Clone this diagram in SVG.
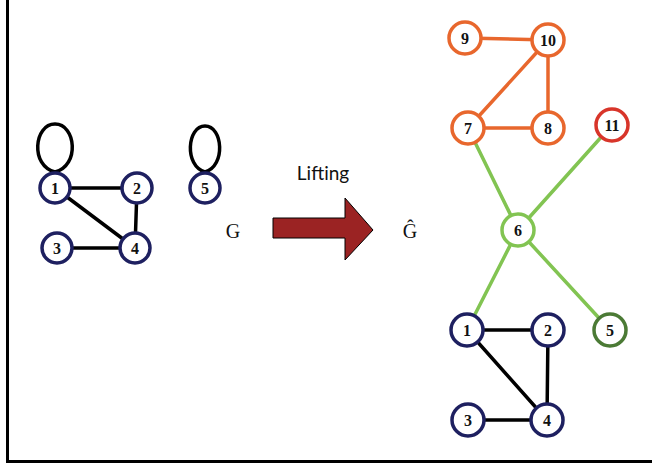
<svg xmlns="http://www.w3.org/2000/svg" width="652" height="466" viewBox="0 0 652 466">
<style>
.n circle{fill:#fff;stroke-width:3.5}
.n text{font-family:"Liberation Serif",serif;font-weight:bold;font-size:16px;text-anchor:middle;fill:#111}
.navy circle{stroke:#1e2060}
.org circle{stroke:#e8672d}
.red circle{stroke:#d8352a}
.lg circle{stroke:#82c452}
.dg circle{stroke:#4b7a35}
.e line,.e path{stroke-width:3.5;fill:none;stroke-linecap:round}
.k{stroke:#000}
.o{stroke:#e8672d}
.g{stroke:#82c452}
.lbl{font-family:"Liberation Serif",serif;font-size:20px;text-anchor:middle;fill:#111}
</style>
<rect x="0" y="0" width="652" height="466" fill="#fff"/>
<path d="M7.5 0 V461.5 H652" fill="none" stroke="#000" stroke-width="3"/>
<g id="connectors" class="e">
<path class="k" d="M55 172 C30 166 34 124 55 124 C76 124 80 166 55 172"/>
<path class="k" d="M205 172 C184 166 187 126 205 126 C223 126 226 166 205 172"/>
<line class="k" x1="55" y1="188" x2="137" y2="188"/>
<line class="k" x1="55" y1="188" x2="135" y2="248"/>
<line class="k" x1="137" y1="188" x2="135" y2="248"/>
<line class="k" x1="57" y1="248" x2="135" y2="248"/>
<line class="o" x1="465" y1="38" x2="548" y2="40"/>
<line class="o" x1="548" y1="40" x2="468" y2="128"/>
<line class="o" x1="548" y1="40" x2="548" y2="128"/>
<line class="o" x1="468" y1="128" x2="548" y2="128"/>
<line class="g" x1="468" y1="128" x2="518" y2="230"/>
<line class="g" x1="612" y1="125" x2="518" y2="230"/>
<line class="g" x1="518" y1="230" x2="467" y2="330"/>
<line class="g" x1="518" y1="230" x2="610" y2="330"/>
<line class="k" x1="467" y1="330" x2="548" y2="330"/>
<line class="k" x1="467" y1="330" x2="547" y2="420"/>
<line class="k" x1="548" y1="330" x2="547" y2="420"/>
<line class="k" x1="468" y1="420" x2="547" y2="420"/>
</g>
<g id="L1" class="n navy"><circle cx="55" cy="188" r="15"/><text x="55" y="194">1</text></g>
<g id="L2" class="n navy"><circle cx="137" cy="188" r="15"/><text x="137" y="194">2</text></g>
<g id="L3" class="n navy"><circle cx="57" cy="248" r="15"/><text x="57" y="254">3</text></g>
<g id="L4" class="n navy"><circle cx="135" cy="248" r="15"/><text x="135" y="254">4</text></g>
<g id="L5" class="n navy"><circle cx="205" cy="188" r="15"/><text x="205" y="194">5</text></g>
<g id="R9" class="n org"><circle cx="465" cy="38" r="16"/><text x="465" y="44">9</text></g>
<g id="R10" class="n org"><circle cx="548" cy="40" r="16"/><text x="548" y="46">10</text></g>
<g id="R7" class="n org"><circle cx="468" cy="128" r="16"/><text x="468" y="134">7</text></g>
<g id="R8" class="n org"><circle cx="548" cy="128" r="16"/><text x="548" y="134">8</text></g>
<g id="R11" class="n red"><circle cx="612" cy="125" r="16"/><text x="612" y="131">11</text></g>
<g id="R6" class="n lg"><circle cx="518" cy="230" r="16"/><text x="518" y="236">6</text></g>
<g id="R1" class="n navy"><circle cx="467" cy="330" r="16"/><text x="467" y="336">1</text></g>
<g id="R2" class="n navy"><circle cx="548" cy="330" r="16"/><text x="548" y="336">2</text></g>
<g id="R5" class="n dg"><circle cx="610" cy="330" r="16"/><text x="610" y="336">5</text></g>
<g id="R3" class="n navy"><circle cx="468" cy="420" r="16"/><text x="468" y="426">3</text></g>
<g id="R4" class="n navy"><circle cx="547" cy="420" r="16"/><text x="547" y="426">4</text></g>
<g id="arrow">
<path d="M273 218 H345 V198 L373 230 L345 260 V238 H273 Z" fill="#9b2323" stroke="#000" stroke-width="1"/>
<text x="323" y="180" font-family="Lato, 'Open Sans', sans-serif" font-size="19" text-anchor="middle" fill="#111">Lifting</text>
</g>
<text class="lbl" x="233" y="238">G</text>
<text class="lbl" x="410" y="238">Ĝ</text>
</svg>
